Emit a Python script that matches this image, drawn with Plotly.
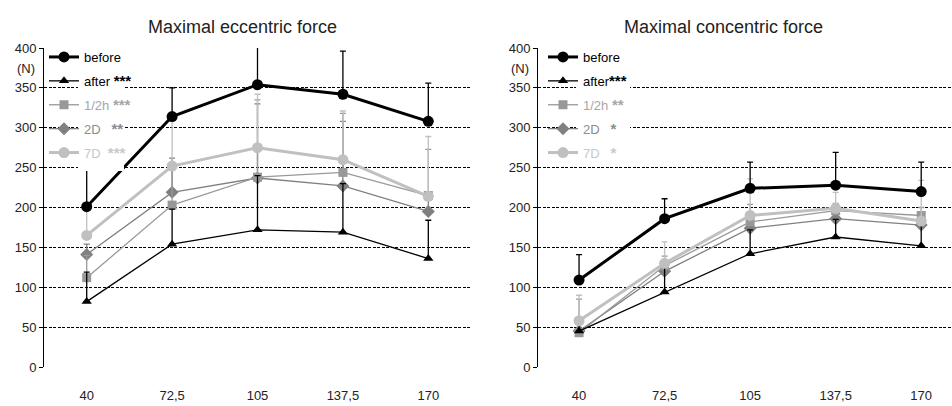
import plotly.graph_objects as go

# Angular velocity categories (deg/s)
speeds = ["40", "72,5", "105", "137,5", "170"]
y_ticks = [0, 50, 100, 150, 200, 250, 300, 350, 400]

# Maximal eccentric force (N): means and upper SD
ecc_before = [201, 314, 354, 342, 308]
ecc_after = [82, 154, 172, 169, 136]
ecc_half = [112, 203, 238, 244, 215]
ecc_2d = [141, 219, 237, 227, 195]
ecc_7d = [165, 252, 275, 260, 214]
ecc_before_sd = [59, 36, 86, 54, 48]
ecc_after_sd = [37, 44, 68, 61, 48]
ecc_half_sd = [28, 47, 97, 74, 58]
ecc_2d_sd = [13, 43, 93, 81, 17]
ecc_7d_sd = [40, 60, 67, 61, 75]

# Maximal concentric force (N): means and upper SD
con_before = [109, 186, 224, 228, 220]
con_after = [45, 94, 142, 163, 152]
con_half = [43, 127, 182, 196, 190]
con_2d = [45, 120, 174, 186, 178]
con_7d = [58, 130, 190, 199, 183]
con_before_sd = [32, 25, 33, 41, 37]
con_after_sd = [15, 31, 30, 22, 28]
con_half_sd = [42, 12, 22, 9, 10]
con_2d_sd = [11, 8, 11, 9, 10]
con_7d_sd = [32, 27, 46, 20, 51]

FONT = "Liberation Sans, Arial, sans-serif"

C_BEFORE = "#000000"
C_AFTER = "#000000"
C_HALF = "#999999"
C_2D = "#808080"
C_7D = "#c0c0c0"

series_style = [
    # key, color, line width, marker symbol, marker size
    ("before", C_BEFORE, 3, "circle", 11),
    ("after", C_AFTER, 1.3, "triangle-up", 9),
    ("1/2h", C_HALF, 1.3, "square", 9),
    ("2D", C_2D, 1.3, "diamond", 10),
    ("7D", C_7D, 3, "circle", 11),
]


def stars(n):
    return '<span style="font-size:15px"><b>' + "*" * n + "</b></span>"


ecc_names = [
    "before",
    "after " + stars(3),
    '<span style="color:#a6a6a6">1/2h\u00a0' + stars(3) + "</span>",
    '<span style="color:#8c8c8c">2D\u00a0\u00a0\u00a0' + stars(2) + "</span>",
    '<span style="color:#c8c8c8">7D\u00a0\u00a0' + stars(3) + "</span>",
]
con_names = [
    "before",
    "after" + stars(3),
    '<span style="color:#a6a6a6">1/2h ' + stars(2) + "</span>",
    '<span style="color:#8c8c8c">2D\u00a0\u00a0\u00a0' + stars(1) + "</span>",
    '<span style="color:#c8c8c8">7D\u00a0\u00a0\u00a0' + stars(1) + "</span>",
]

ecc_vals = [ecc_before, ecc_after, ecc_half, ecc_2d, ecc_7d]
ecc_sds = [ecc_before_sd, ecc_after_sd, ecc_half_sd, ecc_2d_sd, ecc_7d_sd]
con_vals = [con_before, con_after, con_half, con_2d, con_7d]
con_sds = [con_before_sd, con_after_sd, con_half_sd, con_2d_sd, con_7d_sd]

fig = go.Figure()

# draw order: thin series first so the heavy lines sit on top
order = [3, 2, 1, 4, 0]


def add_panel(vals, sds, names, xa, ya, legend, group_prefix):
    for i in order:
        key, color, lw, sym, ms = series_style[i]
        fig.add_trace(go.Scatter(
            x=speeds, y=vals[i], name=names[i],
            mode="lines+markers",
            line=dict(color=color, width=lw),
            marker=dict(symbol=sym, size=ms, color=color),
            error_y=dict(type="data", array=sds[i], arrayminus=[0] * len(sds[i]),
                         symmetric=False, color=color, thickness=1.3, width=3),
            xaxis=xa, yaxis=ya, legend=legend,
            legendgroup=group_prefix + key, legendrank=i + 1,
        ))


add_panel(ecc_vals, ecc_sds, ecc_names, "x", "y", "legend", "e")
add_panel(con_vals, con_sds, con_names, "x2", "y2", "legend2", "c")

W, H = 952, 406
Y0 = (H - 367) / H
Y1 = (H - 48) / H

axis_y = dict(range=[0, 400], tickvals=y_ticks, showgrid=True, gridcolor="#000000",
              gridwidth=1, griddash="3px,1.5px", zeroline=False, showline=True,
              linecolor="#000000", linewidth=1, ticks="outside", ticklen=4,
              tickcolor="#000000", tickfont=dict(family=FONT, size=13, color="#222"),
              domain=[Y0, Y1], fixedrange=True, automargin=False)
axis_x = dict(type="category", showgrid=False, zeroline=False, showline=False,
              ticks="", ticklabelstandoff=19, automargin=False,
              tickfont=dict(family=FONT, size=13, color="#222"), fixedrange=True)

legend_common = dict(bgcolor="rgba(0,0,0,0)", borderwidth=0, tracegroupgap=4,
                     font=dict(family=FONT, size=13, color="#000"),
                     itemwidth=30, xanchor="left", yanchor="top",
                     traceorder="grouped")

title_font = dict(family=FONT, size=18, color="#222")
unit_font = dict(family=FONT, size=13, color="#222")

fig.update_layout(
    template="none",
    width=W, height=H,
    margin=dict(l=0, r=0, t=0, b=0, autoexpand=False),
    paper_bgcolor="white", plot_bgcolor="white",
    showlegend=True,
    xaxis=dict(axis_x, domain=[44 / W, 471 / W], range=[-0.5, 4.5], anchor="y"),
    yaxis=dict(axis_y, anchor="x"),
    xaxis2=dict(axis_x, domain=[538 / W, 1.0], range=[-0.48, 4.36], anchor="y2"),
    yaxis2=dict(axis_y, anchor="x2"),
    legend=dict(legend_common, x=44 / W, y=(H - 42) / H),
    legend2=dict(legend_common, x=543 / W, y=(H - 42) / H),
    annotations=[
        dict(text="Maximal eccentric force", x=243 / W, y=(H - 27) / H, xref="paper",
             yref="paper", xanchor="center", yanchor="middle", showarrow=False,
             font=title_font),
        dict(text="Maximal concentric force", x=723 / W, y=(H - 27) / H, xref="paper",
             yref="paper", xanchor="center", yanchor="middle", showarrow=False,
             font=title_font),
        dict(text="(N)", x=37 / W, y=(H - 69) / H, xref="paper", yref="paper",
             xanchor="right", yanchor="middle", showarrow=False, font=unit_font),
        dict(text="(N)", x=531 / W, y=(H - 69) / H, xref="paper", yref="paper",
             xanchor="right", yanchor="middle", showarrow=False, font=unit_font),
    ],
    shapes=[
        # white backing behind the legend labels
        dict(type="rect", xref="paper", yref="paper", x0=78 / W, x1=124 / W,
             y0=(H - 171) / H, y1=(H - 46) / H, fillcolor="white", line=dict(width=0),
             layer="above"),
        dict(type="rect", xref="paper", yref="paper", x0=576 / W, x1=630 / W,
             y0=(H - 163) / H, y1=(H - 46) / H, fillcolor="white", line=dict(width=0),
             layer="above"),
    ],
)

fig.write_html("out.html")
